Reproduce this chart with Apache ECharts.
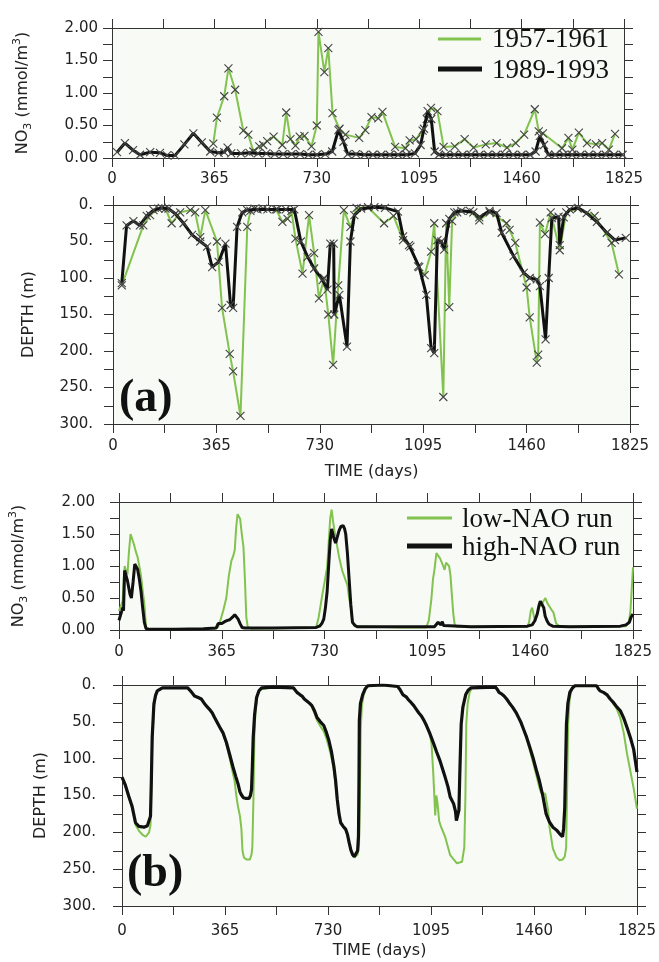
<!DOCTYPE html>
<html><head><meta charset="utf-8">
<script src="https://cdn.jsdelivr.net/npm/echarts@6/dist/echarts.min.js"></script>
<style>html,body{margin:0;padding:0;background:#fff}#c{width:659px;height:962px}</style>
</head><body><div id="c"></div>
<script>
// ---------------- DATA ----------------
const xTickDays = [0, 365, 730, 1095, 1460, 1825];
const no3Ticks = [0, 0.5, 1.0, 1.5, 2.0];
const depthTicks = [0, 50, 100, 150, 200, 250, 300];

// Panel (a) top: observed NO3, 1989-1993 (black)
const obsNo3Days89 = [18,46,75,100,136,171,196,225,258,290,320,350,380,400,412,425,460,490,520,550,580,610,640,670,700,730,760,785,807,825,840,870,900,930,960,990,1020,1050,1080,1100,1112,1125,1138,1150,1165,1190,1220,1250,1280,1310,1340,1370,1400,1430,1460,1490,1510,1525,1540,1555,1580,1610,1640,1670,1700,1730,1760,1790,1820];
const obsNo3Vals89 = [0.09,0.23,0.12,0.05,0.09,0.08,0.04,0.04,0.21,0.38,0.24,0.10,0.08,0.09,0.16,0.07,0.07,0.08,0.07,0.07,0.06,0.06,0.06,0.06,0.05,0.05,0.06,0.10,0.43,0.25,0.06,0.06,0.05,0.05,0.05,0.05,0.05,0.05,0.07,0.20,0.45,0.72,0.60,0.10,0.05,0.05,0.05,0.05,0.05,0.05,0.05,0.05,0.05,0.05,0.05,0.05,0.10,0.34,0.20,0.05,0.05,0.05,0.05,0.05,0.05,0.05,0.05,0.05,0.05];
// Panel (a) top: observed NO3, 1957-1961 (green)
const obsNo3Days57 = [361,374,400,415,439,468,486,504,525,539,553,576,607,621,636,654,669,686,711,730,736,757,771,786,811,832,881,903,925,949,964,1009,1046,1061,1084,1107,1122,1137,1160,1182,1222,1257,1289,1332,1371,1408,1439,1469,1507,1521,1536,1604,1627,1641,1664,1693,1725,1747,1771,1793];
const obsNo3Vals57 = [0.22,0.62,0.95,1.38,1.05,0.42,0.36,0.10,0.18,0.20,0.26,0.33,0.20,0.70,0.29,0.19,0.33,0.34,0.18,0.50,1.94,1.32,1.69,0.69,0.45,0.36,0.31,0.43,0.63,0.61,0.71,0.17,0.15,0.27,0.29,0.42,0.60,0.77,0.72,0.17,0.18,0.29,0.16,0.21,0.23,0.16,0.23,0.36,0.75,0.41,0.38,0.15,0.31,0.13,0.39,0.23,0.21,0.23,0.13,0.37];

// Panel (a) bottom: observed mixed-layer depth, 1989-1993 (black)
const obsDepthDays89 = [31,48,72,95,119,143,172,196,220,249,279,308,332,350,373,397,415,424,438,456,474,510,545,580,610,640,663,687,710,740,757,767,779,781,799,826,838,852,876,923,960,1006,1024,1045,1081,1106,1123,1134,1145,1159,1169,1187,1205,1230,1272,1293,1329,1354,1372,1414,1450,1471,1496,1507,1527,1538,1549,1573,1577,1591,1612,1643,1672,1708,1743,1772,1810];
const obsDepthVals89 = [107,28,22,28,15,7,4,5,12,25,41,50,57,85,78,53,137,141,30,10,7,6,6,6,6,6,50,71,87,103,116,53,53,150,123,194,50,14,5,3,4,9,43,55,85,123,196,203,48,50,61,19,10,8,10,17,8,11,38,70,93,100,102,111,184,100,18,16,55,17,6,4,11,23,38,48,45];
// Panel (a) bottom: observed mixed-layer depth, 1957-1961 (green)
const obsDepthDays57 = [31,107,131,160,185,207,237,273,290,308,326,367,385,412,424,450,474,485,500,530,575,598,616,630,644,669,692,710,727,745,760,777,795,815,838,860,900,957,990,1024,1050,1077,1100,1123,1134,1166,1176,1187,1197,1215,1260,1293,1330,1389,1400,1420,1460,1471,1496,1501,1507,1525,1545,1577,1600,1640,1700,1760,1786];
const obsDepthVals57 = [110,28,14,5,5,25,10,7,10,44,7,50,141,204,228,289,30,8,5,5,6,23,19,8,46,94,14,66,128,100,150,219,110,7,30,4,3,25,15,48,57,84,96,64,25,263,25,140,22,10,8,21,10,25,34,52,113,154,216,205,24,40,10,62,10,5,15,52,95];

// Panel (b) top: model NO3, high-NAO run (black)
const modNo3DaysHigh = [0,7,10,13,16,20,25,30,39,44,50,56,62,66,72,78,84,90,96,110,200,300,345,352,358,365,375,385,393,403,411,418,423,430,437,447,550,700,712,720,727,733,739,745,750,755,762,769,775,781,788,796,801,805,811,817,823,829,838,847,1000,1120,1127,1133,1138,1143,1148,1152,1158,1250,1450,1467,1476,1485,1491,1496,1502,1508,1513,1520,1527,1540,1600,1780,1800,1812,1818,1825];
const modNo3ValsHigh = [0.15,0.12,0.30,0.35,0.30,0.93,0.85,0.77,0.56,0.50,0.75,1.03,1.00,0.95,0.80,0.61,0.35,0.12,0.02,0.01,0.01,0.02,0.03,0.10,0.07,0.10,0.13,0.15,0.16,0.20,0.24,0.22,0.17,0.10,0.04,0.03,0.03,0.04,0.06,0.10,0.17,0.35,0.60,1.05,1.40,1.58,1.45,1.36,1.45,1.55,1.62,1.63,1.58,1.50,1.20,0.80,0.40,0.12,0.07,0.05,0.05,0.05,0.06,0.12,0.14,0.08,0.13,0.07,0.05,0.05,0.06,0.08,0.14,0.25,0.38,0.45,0.43,0.35,0.22,0.14,0.09,0.06,0.05,0.06,0.08,0.12,0.20,0.25];
// Panel (b) top: model NO3, low-NAO run (green)
const modNo3DaysLow = [0,7,13,17,20,25,30,35,41,47,53,60,66,72,78,84,90,96,110,340,352,360,370,381,390,399,405,411,416,421,426,430,436,442,447,452,457,470,700,709,720,730,739,745,750,755,760,765,769,775,781,787,793,799,805,811,817,823,829,838,1000,1091,1100,1109,1115,1120,1127,1134,1140,1146,1151,1156,1161,1167,1172,1177,1181,1187,1192,1200,1450,1456,1462,1467,1473,1478,1485,1492,1500,1507,1514,1521,1528,1535,1542,1552,1564,1700,1800,1810,1816,1820,1825];
const modNo3ValsLow = [0.30,0.38,0.45,0.80,1.00,0.92,0.87,1.20,1.50,1.42,1.34,1.22,1.14,1.00,0.85,0.62,0.41,0.04,0.01,0.02,0.05,0.15,0.30,0.50,0.85,1.08,1.15,1.25,1.60,1.81,1.78,1.74,1.50,1.29,0.80,0.20,0.05,0.02,0.04,0.20,0.50,0.75,0.98,1.40,1.75,1.88,1.70,1.55,1.45,1.30,1.15,1.03,0.92,0.85,0.77,0.70,0.50,0.35,0.12,0.06,0.04,0.04,0.15,0.48,0.80,0.94,1.20,1.22,1.12,1.13,1.00,0.94,1.05,1.08,1.00,0.85,0.60,0.25,0.08,0.05,0.05,0.12,0.30,0.35,0.22,0.14,0.25,0.36,0.40,0.45,0.50,0.42,0.40,0.32,0.28,0.10,0.06,0.05,0.06,0.12,0.30,0.60,0.98];

// Panel (b) bottom: model mixed-layer depth, high-NAO run (black)
const modDepthDaysHigh = [0,12,24,36,48,60,78,90,101,104,107,113,119,125,143,179,233,240,245,251,257,270,281,290,298,310,320,328,346,358,370,382,393,403,411,418,423,430,440,450,455,459,462,465,470,477,485,495,537,608,614,620,630,638,646,656,665,673,682,691,703,715,724,733,742,751,757,763,769,775,784,793,799,805,811,817,823,829,835,838,840,841,845,853,862,871,925,977,985,995,1007,1015,1025,1034,1043,1052,1061,1070,1079,1090,1103,1115,1127,1136,1145,1155,1163,1175,1182,1185,1190,1194,1197,1200,1202,1208,1218,1227,1236,1324,1330,1336,1345,1354,1363,1372,1384,1396,1405,1414,1423,1432,1444,1456,1468,1479,1491,1503,1515,1527,1540,1551,1561,1565,1569,1572,1575,1580,1587,1596,1605,1682,1688,1694,1706,1718,1730,1742,1754,1766,1778,1790,1802,1813,1825];
const modDepthValsHigh = [125,136,151,165,187,192,193,191,178,130,71,26,14,8,4,4,4,6,9,11,15,17,19,24,28,33,38,44,57,65,78,95,111,124,134,145,149,153,154,154,150,142,110,71,40,17,8,4,3,4,7,10,13,15,19,22,25,28,35,44,50,55,64,75,90,111,130,156,175,187,192,196,203,214,224,230,233,232,225,205,120,48,25,13,5,1,0,2,6,13,16,20,24,28,33,38,42,48,55,65,78,91,103,114,125,138,152,161,172,184,186,170,121,80,53,30,13,7,4,3,6,10,12,15,19,24,30,37,44,51,60,69,83,98,115,130,150,175,186,193,197,202,206,195,166,110,53,25,10,4,1,1,5,8,10,13,19,24,30,35,45,58,72,87,118];
// Panel (b) bottom: model mixed-layer depth, low-NAO run (green)
const modDepthDaysLow = [0,12,24,36,48,60,72,84,90,96,101,104,107,113,119,125,143,179,233,240,245,251,257,270,281,290,298,310,320,328,346,358,370,382,393,399,405,411,418,423,427,432,441,453,459,462,466,469,473,480,488,495,537,608,614,620,630,638,646,656,665,673,682,691,703,715,724,733,742,751,757,763,769,775,784,793,799,805,811,817,823,829,835,840,843,846,850,856,864,873,925,977,985,995,1007,1015,1025,1034,1043,1052,1061,1070,1079,1090,1097,1103,1110,1114,1118,1124,1131,1145,1163,1187,1205,1213,1217,1220,1225,1232,1240,1324,1330,1336,1345,1354,1363,1372,1384,1396,1405,1414,1423,1432,1444,1456,1468,1479,1485,1491,1500,1506,1510,1515,1527,1540,1551,1561,1569,1574,1577,1581,1586,1592,1600,1608,1682,1688,1694,1706,1718,1730,1742,1754,1766,1778,1790,1802,1813,1825];
const modDepthValsLow = [125,137,153,167,190,198,203,206,205,200,190,140,80,30,15,8,4,4,4,6,9,11,15,17,19,24,28,33,38,44,57,66,80,100,120,130,150,165,178,195,225,234,237,237,230,219,150,71,35,15,6,4,3,4,7,10,13,15,19,22,25,30,38,48,56,63,72,84,98,115,135,158,176,188,193,197,204,215,225,231,234,233,230,215,150,60,28,14,5,1,0,2,6,13,16,20,24,28,33,38,42,48,55,65,80,120,177,150,160,185,193,206,231,242,240,220,150,53,25,10,4,3,6,10,12,15,19,24,30,37,44,51,60,70,87,104,122,139,146,148,148,150,170,193,222,234,238,237,233,220,150,53,20,8,3,1,1,5,8,10,13,19,26,33,45,65,94,118,140,168];

// ---------------- CHART ----------------
const GREEN = '#82c24e';
const BLACK = '#111111';
const AX = '#333333';
const pairs = (d, v) => d.map((x, i) => [x, v[i]]);
const grids = [
  {left: 112, top: 28, width: 512, height: 130},
  {left: 113, top: 205, width: 517, height: 219},
  {left: 119, top: 502, width: 514, height: 128},
  {left: 122, top: 685, width: 515, height: 221}
].map(g => Object.assign({show: true, backgroundColor: '#f8faf5', borderWidth: 0, containLabel: false, outerBoundsMode: 'none'}, g));

const labelFont = {fontFamily: 'DejaVu Sans', fontSize: 15, color: '#222'};
const nameFont = {fontFamily: 'DejaVu Sans', fontSize: 16, color: '#222'};

function xAxes(gi, opts) {
  const base = {
    type: 'value', gridIndex: gi, min: 0, max: 1825, interval: 182.5,
    axisLine: {show: true, onZero: false, lineStyle: {color: AX, width: 1}},
    axisTick: {show: true, inside: false, length: 9, lineStyle: {color: AX, width: 1}},
    splitLine: {show: false}
  };
  const bottom = Object.assign({}, base, {
    position: 'bottom',
    axisLabel: Object.assign({show: true, margin: opts.margin,
      formatter: v => (xTickDays.some(t => Math.abs(t - v) < 1e-6) ? String(Math.round(v)) : '')}, labelFont)
  });
  if (opts.name) {
    bottom.name = opts.name; bottom.nameLocation = 'middle'; bottom.nameGap = opts.nameGap;
    bottom.nameTextStyle = nameFont;
  }
  const top = Object.assign({}, base, {position: 'top', axisLabel: {show: false}});
  return [bottom, top];
}
function yAxes(gi, kind, opts) {
  const base = kind === 'no3'
    ? {type: 'value', gridIndex: gi, min: 0, max: 2, interval: 0.25}
    : {type: 'value', gridIndex: gi, min: 0, max: 300, interval: 25, inverse: true};
  Object.assign(base, {
    axisLine: {show: true, onZero: false, lineStyle: {color: AX, width: 1}},
    axisTick: {show: true, inside: false, length: 9, lineStyle: {color: AX, width: 1}},
    splitLine: {show: false}
  });
  const fmt = kind === 'no3'
    ? (v => (no3Ticks.some(t => Math.abs(t - v) < 1e-6) ? v.toFixed(2) : ''))
    : (v => (depthTicks.some(t => Math.abs(t - v) < 1e-6) ? Math.round(v) + '.' : ''));
  const left = Object.assign({}, base, {
    position: 'left',
    axisLabel: Object.assign({show: true, margin: opts.margin, formatter: fmt}, labelFont),
    name: opts.name, nameLocation: 'middle', nameGap: opts.nameGap, nameRotate: 90,
    nameTextStyle: opts.rich ? Object.assign({}, nameFont, {rich: opts.rich}) : nameFont
  });
  const right = Object.assign({}, base, {position: 'right', axisLabel: {show: false}});
  return [left, right];
}

const no3Rich = {
  n: {fontFamily: 'DejaVu Sans', fontSize: 16, color: '#222', lineHeight: 22, verticalAlign: 'middle'},
  s: {fontFamily: 'DejaVu Sans', fontSize: 11, color: '#222', lineHeight: 22, verticalAlign: 'bottom', padding: [8, 0, 0, 0]},
  p: {fontFamily: 'DejaVu Sans', fontSize: 11, color: '#222', lineHeight: 22, verticalAlign: 'top', padding: [0, 0, 8, 0]}
};
const no3Name = '{n|NO}{s|3}{n| (mmol/m}{p|3}{n|)}';

const xAxis = [].concat(
  xAxes(0, {margin: 14}),
  xAxes(1, {margin: 15, name: 'TIME (days)', nameGap: 40}),
  xAxes(2, {margin: 15}),
  xAxes(3, {margin: 18, name: 'TIME (days)', nameGap: 37})
);
const yAxis = [].concat(
  yAxes(0, 'no3', {margin: 14, name: no3Name, nameGap: 78, rich: no3Rich}),
  yAxes(1, 'depth', {margin: 20, name: 'DEPTH (m)', nameGap: 76}),
  yAxes(2, 'no3', {margin: 24, name: no3Name, nameGap: 89, rich: no3Rich}),
  yAxes(3, 'depth', {margin: 26, name: 'DEPTH (m)', nameGap: 73})
);

const X_SYMBOL = 'path://M0,0L10,10M10,0L0,10';
function obsSeries(name, gi, data, color, width) {
  return {
    name, type: 'line', xAxisIndex: gi * 2, yAxisIndex: gi * 2, data,
    showSymbol: true, symbol: X_SYMBOL, symbolSize: 8,
    itemStyle: {color: 'rgba(0,0,0,0)', borderColor: '#444', borderWidth: 1.1},
    lineStyle: {color, width}, z: color === BLACK ? 4 : 3
  };
}
function modSeries(name, gi, data, color, width) {
  return {
    name, type: 'line', xAxisIndex: gi * 2, yAxisIndex: gi * 2, data,
    showSymbol: false, symbol: 'none', lineStyle: {color, width}, z: color === BLACK ? 4 : 3
  };
}

const series = [
  obsSeries('1957-1961', 0, pairs(obsNo3Days57, obsNo3Vals57), GREEN, 2),
  obsSeries('1989-1993', 0, pairs(obsNo3Days89, obsNo3Vals89), BLACK, 3),
  obsSeries('1957-1961', 1, pairs(obsDepthDays57, obsDepthVals57), GREEN, 2),
  obsSeries('1989-1993', 1, pairs(obsDepthDays89, obsDepthVals89), BLACK, 3),
  modSeries('low-NAO run', 2, pairs(modNo3DaysLow, modNo3ValsLow), GREEN, 2),
  modSeries('high-NAO run', 2, pairs(modNo3DaysHigh, modNo3ValsHigh), BLACK, 3),
  modSeries('low-NAO run', 3, pairs(modDepthDaysLow, modDepthValsLow), GREEN, 2),
  modSeries('high-NAO run', 3, pairs(modDepthDaysHigh, modDepthValsHigh), BLACK, 3.2)
];

const serif = '"Liberation Serif", "Times New Roman", serif';
const graphic = [
  {type: 'line', shape: {x1: 438, y1: 39, x2: 481, y2: 39}, style: {stroke: GREEN, lineWidth: 3}},
  {type: 'text', x: 492, y: 40, style: {text: '1957-1961', fontFamily: serif, fontSize: 27, fill: '#111', verticalAlign: 'middle'}},
  {type: 'line', shape: {x1: 438, y1: 69, x2: 482, y2: 69}, style: {stroke: BLACK, lineWidth: 5}},
  {type: 'text', x: 492, y: 71, style: {text: '1989-1993', fontFamily: serif, fontSize: 27, fill: '#111', verticalAlign: 'middle'}},
  {type: 'line', shape: {x1: 407, y1: 518, x2: 452, y2: 518}, style: {stroke: GREEN, lineWidth: 3}},
  {type: 'text', x: 462, y: 520, style: {text: 'low-NAO run', fontFamily: serif, fontSize: 27, fill: '#111', verticalAlign: 'middle'}},
  {type: 'line', shape: {x1: 407, y1: 546, x2: 452, y2: 546}, style: {stroke: BLACK, lineWidth: 5}},
  {type: 'text', x: 462, y: 548, style: {text: 'high-NAO run', fontFamily: serif, fontSize: 27, fill: '#111', verticalAlign: 'middle'}},
  {type: 'text', x: 119, y: 399, style: {text: '(a)', fontFamily: serif, fontWeight: 'bold', fontSize: 46, fill: '#111', verticalAlign: 'middle'}},
  {type: 'text', x: 127, y: 874, style: {text: '(b)', fontFamily: serif, fontWeight: 'bold', fontSize: 46, fill: '#111', verticalAlign: 'middle'}}
];

const chart = echarts.init(document.getElementById('c'), null, {renderer: 'canvas'});
chart.setOption({
  animation: false,
  backgroundColor: '#ffffff',
  grid: grids,
  xAxis, yAxis, series, graphic
});
</script></body></html>
